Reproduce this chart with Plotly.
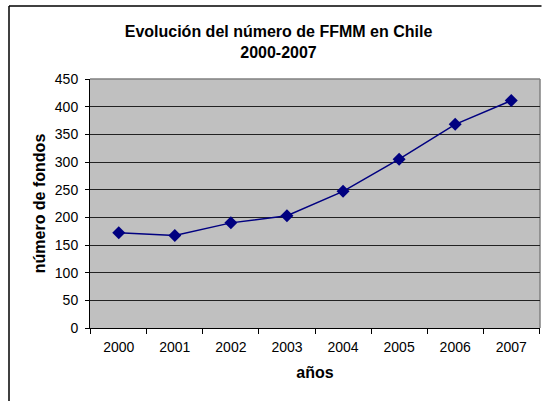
import plotly.graph_objects as go

# Number of mutual funds (FFMM) in Chile per year
years = ["2000", "2001", "2002", "2003", "2004", "2005", "2006", "2007"]
funds = [172, 167, 190, 203, 247, 305, 368, 411]

W, H = 542, 401
L, R, T, B = 90, 540, 79, 328  # plot area in pixels


def px(x):
    return (x - L) / (R - L)


def py(y):
    return (B - y) / (B - T)


font = "Liberation Sans, Arial, sans-serif"

fig = go.Figure(
    go.Scatter(
        x=years,
        y=funds,
        mode="lines+markers",
        line=dict(color="#000080", width=1.5),
        marker=dict(symbol="diamond", size=10, color="#000080"),
        showlegend=False,
        hoverinfo="x+y",
    )
)

frame = dict(color="black", width=1.5)

fig.update_layout(
    width=W,
    height=H,
    margin=dict(l=L, r=W - R, t=T, b=H - B),
    paper_bgcolor="white",
    plot_bgcolor="#C0C0C0",
    font=dict(family=font, size=13, color="black"),
    title=dict(
        text="<b>Evolución del número de FFMM en Chile</b><br><b>2000-2007</b>",
        font=dict(size=16),
        x=278.5 / W,
        xref="container",
        xanchor="center",
        y=1 - 37 / H,
        yref="container",
        yanchor="middle",
    ),
    xaxis=dict(
        type="category",
        tickson="boundaries",
        ticks="outside",
        ticklen=5,
        tickcolor="black",
        showgrid=False,
        showline=True,
        linecolor="black",
        linewidth=1,
        tickfont=dict(size=14),
        ticklabelstandoff=6,
        title=dict(text="<b>años</b>", font=dict(size=16), standoff=13),
    ),
    yaxis=dict(
        range=[0, 450],
        dtick=50,
        ticks="outside",
        ticklen=4,
        tickcolor="black",
        showgrid=True,
        gridcolor="#222222",
        gridwidth=1,
        showline=True,
        linecolor="black",
        linewidth=1,
        zeroline=False,
        tickfont=dict(size=14),
        ticklabelstandoff=4,
        title=dict(text="<b>número de fondos</b>", font=dict(size=16), standoff=5),
    ),
    shapes=[
        # outer chart frame: left and top edges (the rest lies outside the page)
        dict(type="line", xref="paper", yref="paper",
             x0=px(9), x1=px(9), y0=py(6), y1=py(450), line=frame),
        dict(type="line", xref="paper", yref="paper",
             x0=px(9), x1=px(541.5), y0=py(6), y1=py(6), line=frame),
        # plot area border: top and right edges in gray
        dict(type="line", xref="paper", yref="paper",
             x0=0, x1=1, y0=1, y1=1, line=dict(color="#808080", width=1.5),
             layer="below"),
        dict(type="line", xref="paper", yref="paper",
             x0=1, x1=1, y0=0, y1=1, line=dict(color="#808080", width=1.5),
             layer="below"),
    ],
)

fig.write_html("out.html")
